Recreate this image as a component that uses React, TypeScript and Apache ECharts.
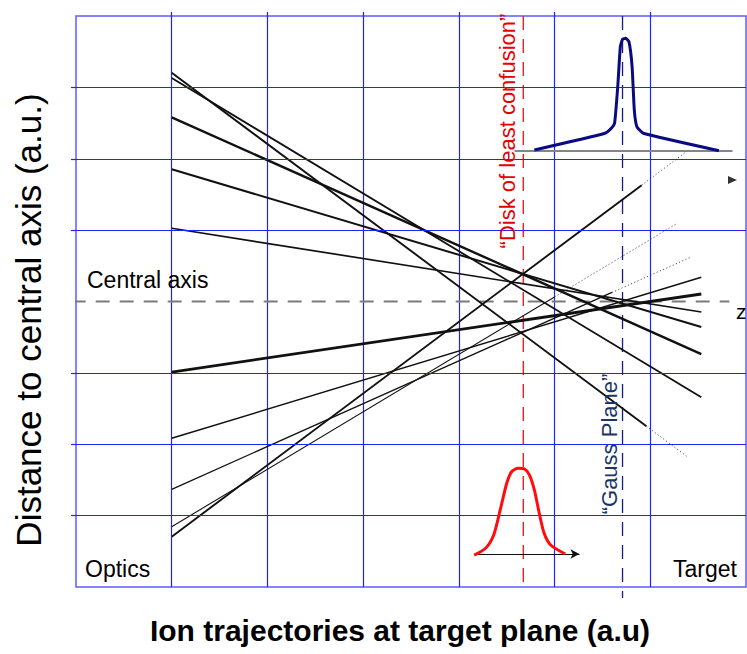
import React, { useEffect, useRef } from 'react';
import * as echarts from 'echarts';

// ---------- data (axis units: x = position along beam, y = distance to central axis) ----------
const rayStartX = [1, 1, 1, 1, 1, 1, 1, 1, 1, 1];
const rayStartY = [3.206, 3.131, 2.581, 1.852, 1.026, -0.988, -1.917, -2.631, -3.155, -3.295];
const rayEndX = [6.391, 6.533, 6.533, 6.533, 6.533, 6.533, 6.533, 6.427, 6.283, 6.391];
const rayEndY = [-2.179, -1.342, -0.736, -0.357, -0.147, 0.105, 0.339, 0.623, 1.096, 2.113];
// point where a ray turns from solid to dotted (null = solid to the end)
const rayFadeX = [5.96, null, null, null, null, null, null, 5.6, 5.0, 5.91];
const rayFadeY = [-1.748, null, null, null, null, null, null, 0.127, 0.064, 1.63];

const centralAxisX = [-0.045, 6.826];
const diskPlaneX = 4.673;
const gaussPlaneX = 5.71;
const gaussPlaneY = [4, -4.154];

const sharpBaseX = [4.582, 6.859];
const sharpBaseY = 2.109;
const sharpProfileX = [4.789, 5.527, 5.593, 5.627, 5.66, 5.687, 5.71, 5.743, 5.777, 5.81, 5.833, 5.86, 5.927, 6.717];
const sharpProfileY = [2.123, 2.357, 2.427, 2.497, 3.009, 3.57, 3.674, 3.688, 3.64, 3.29, 2.683, 2.449, 2.357, 2.113];

const blurBaseX = [4.16, 5.26];
const blurBaseY = -3.538;
const blurProfileX = [4.16, 4.279, 4.364, 4.432, 4.5, 4.551, 4.619, 4.687, 4.738, 4.789, 4.84, 4.891, 4.959, 5.112];
const blurProfileY = [-3.552, -3.458, -3.271, -2.921, -2.547, -2.385, -2.337, -2.347, -2.431, -2.641, -2.967, -3.248, -3.412, -3.538];

const pointerMark = [6.859, 1.702];

const xTickValues = [1, 2, 3, 4, 5, 6];
const yTickValues = [-3, -2, -1, 1, 2, 3];
const yGridValues = [-3, -2, -1, 1, 2, 3];

// ---------- styles ----------
const rayWidths = [1.9, 1.8, 2.4, 2.0, 1.7, 2.8, 1.5, 1.3, 1.1, 1.9];
const FONT = '"Liberation Sans", Arial, sans-serif';
const GRID_BLUE = '#2222ff';

function buildOption() {
  const series: any[] = [];

  const lineSeries = (data: number[][], color: string, width: number, type: any, extra: any = {}) => ({
    type: 'line',
    data,
    symbol: 'none',
    silent: true,
    animation: false,
    lineStyle: { color, width, type, cap: 'butt' },
    ...extra,
  });

  // horizontal grid lines (except the central axis) + central axis
  series.push(
    lineSeries([[centralAxisX[0], 0], [centralAxisX[1], 0]], '#7a7a7a', 2, [14, 10], {
      clip: false,
      z: 2,
      markLine: {
        silent: true,
        symbol: ['none', 'none'],
        label: { show: false },
        lineStyle: { color: GRID_BLUE, width: 1.2, type: 'solid' },
        data: yGridValues.map((v) => ({ yAxis: v })),
      },
    })
  );
  // disk of least confusion plane
  series.push(lineSeries([[diskPlaneX, 4], [diskPlaneX, -4]], '#ee1111', 1.3, [14, 9], { clip: false, z: 2 }));
  // gauss plane
  series.push(lineSeries([[gaussPlaneX, gaussPlaneY[0]], [gaussPlaneX, gaussPlaneY[1]]], '#1a1a80', 1.3, [14, 9], { clip: false, z: 2 }));

  // rays
  for (let i = 0; i < rayStartY.length; i++) {
    const fx = rayFadeX[i];
    const fy = rayFadeY[i];
    if (fx == null || fy == null) {
      series.push(lineSeries([[rayStartX[i], rayStartY[i]], [rayEndX[i], rayEndY[i]]], '#111', rayWidths[i], 'solid', { z: 3 }));
    } else {
      series.push(lineSeries([[rayStartX[i], rayStartY[i]], [fx, fy]], '#111', rayWidths[i], 'solid', { z: 3 }));
      series.push(lineSeries([[fx, fy], [rayEndX[i], rayEndY[i]]], '#333', 1, [1, 2.5], { z: 3 }));
    }
  }

  // sharp (Gauss plane) profile
  series.push(lineSeries([[sharpBaseX[0], sharpBaseY], [sharpBaseX[1], sharpBaseY]], '#858585', 2, 'solid', { z: 4 }));
  series.push(lineSeries(sharpProfileX.map((x, i) => [x, sharpProfileY[i]]), '#0a0a85', 3, 'solid', { z: 5, smooth: 0.15 }));

  // blurred (disk of least confusion) profile
  series.push({
    ...lineSeries(blurProfileX.map((x, i) => [x, blurProfileY[i]]), '#ff0d0d', 3, 'solid', { z: 5, smooth: 0.25 }),
    markLine: {
      silent: true,
      symbol: ['none', 'arrow'],
      symbolSize: [7, 9],
      label: { show: false },
      lineStyle: { color: '#111', width: 1.2, type: 'solid' },
      data: [[{ coord: [blurBaseX[0], blurBaseY] }, { coord: [blurBaseX[1], blurBaseY] }]],
    },
  });

  // small pointer triangle
  series.push({
    type: 'scatter',
    data: [pointerMark],
    symbol: 'triangle',
    symbolRotate: -90,
    symbolSize: [8, 9],
    itemStyle: { color: '#000' },
    silent: true,
    z: 6,
  });

  const text = (t: string, x: number, y: number, size: number, opts: any = {}) => ({
    type: 'text',
    x,
    y,
    rotation: opts.rotation || 0,
    z: 100,
    style: {
      text: t,
      fill: opts.color || '#000',
      fontSize: size,
      fontFamily: FONT,
      fontWeight: opts.weight || 'normal',
      align: opts.align || 'left',
      verticalAlign: 'middle',
      textAlign: opts.align || 'left',
      textVerticalAlign: 'middle',
    },
  });

  return {
    animation: false,
    backgroundColor: '#ffffff',
    grid: {
      left: 76,
      right: 1,
      top: 16,
      bottom: 67,
      show: true,
      borderColor: '#5c5cff',
      borderWidth: 1.5,
      backgroundColor: 'transparent',
    },
    xAxis: [
      {
        type: 'value',
        min: 0,
        max: 7,
        interval: 1,
        position: 'bottom',
        axisLine: { show: false },
        axisTick: { show: false },
        axisLabel: { show: false },
        splitLine: {
          show: true,
          showMinLine: false,
          showMaxLine: false,
          lineStyle: { color: GRID_BLUE, width: 1.2 },
        },
      },
      {
        type: 'value',
        min: 0,
        max: 7,
        interval: 1,
        position: 'top',
        axisLine: { show: false },
        axisTick: { show: true, length: 4, customValues: xTickValues, lineStyle: { color: GRID_BLUE, width: 1.2 } },
        axisLabel: { show: false },
        splitLine: { show: false },
      },
    ],
    yAxis: {
      type: 'value',
      min: -4,
      max: 4,
      interval: 1,
      axisLine: { show: false },
      axisTick: { show: true, length: 5, customValues: yTickValues, lineStyle: { color: GRID_BLUE, width: 1.2 } },
      axisLabel: { show: false },
      splitLine: { show: false },
    },
    graphic: [
      text('Distance to central axis (a.u.)', 28, 320, 35, { rotation: Math.PI / 2, align: 'center' }),
      text('Ion trajectories at target plane (a.u)', 400, 630, 30, { align: 'center', weight: 'bold' }),
      text('Central axis', 87, 280, 23),
      text('Optics', 85, 569, 23),
      text('Target', 737, 569, 23, { align: 'right' }),
      text('z', 736, 311, 21),
      text('\u201CDisk of least confusion\u201D', 507, 131, 22, { rotation: Math.PI / 2, align: 'center', color: '#e60000' }),
      text('\u201CGauss Plane\u201D', 609, 444, 22, { rotation: Math.PI / 2, align: 'center', color: '#1a3566' }),
    ],
    series,
  };
}

export default function App() {
  const ref = useRef<HTMLDivElement>(null);
  useEffect(() => {
    if (!ref.current) return;
    const chart = echarts.init(ref.current, null, { renderer: 'svg' });
    chart.setOption(buildOption() as any);
    return () => chart.dispose();
  }, []);
  return (
    <div
      ref={ref}
      style={{ position: 'fixed', left: 0, top: 0, width: 747, height: 654, background: '#fff' }}
    />
  );
}
